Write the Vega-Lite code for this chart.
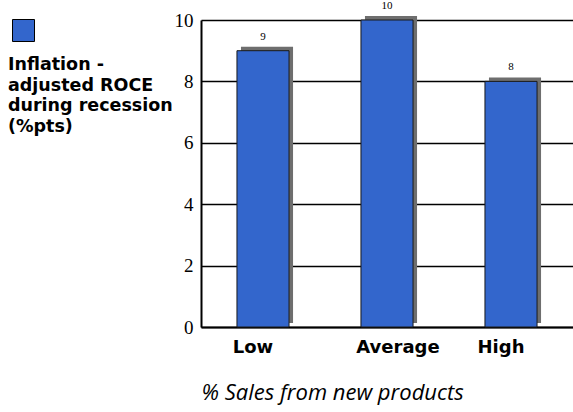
{
  "$schema": "https://vega.github.io/schema/vega-lite/v6.json",
  "autosize": "none",
  "width": 372,
  "height": 307,
  "padding": {"left": 201, "top": 20, "right": 0, "bottom": 85},
  "background": "white",
  "config": {
    "view": {"stroke": null},
    "axisY": {"labelFont": "Liberation Serif, Times New Roman, serif", "labelFontSize": 19}
  },
  "data": {
    "values": [
      {"cat": "Low", "value": 9, "series": "Inflation - adjusted ROCE during recession (%pts)"},
      {"cat": "Average", "value": 10, "series": "Inflation - adjusted ROCE during recession (%pts)"},
      {"cat": "High", "value": 8, "series": "Inflation - adjusted ROCE during recession (%pts)"}
    ]
  },
  "encoding": {
    "x": {
      "field": "cat",
      "type": "nominal",
      "sort": ["Low", "Average", "High"],
      "scale": {"paddingInner": 0.58, "paddingOuter": 0.29},
      "axis": {
        "title": "% Sales from new products",
        "titleFont": "Open Sans",
        "titleFontStyle": "italic",
        "titleFontWeight": "normal",
        "titleFontSize": 22,
        "titleColor": "black",
        "titleAnchor": "start",
        "titlePadding": 26,
        "labelFont": "DejaVu Sans",
        "labelFontWeight": "bold",
        "labelFontSize": 18,
        "labelColor": "black",
        "labelAngle": 0,
        "labelPadding": 11,
        "labelOffset": {"condition": {"test": "datum.value === 'Average'", "value": 11}, "value": -10},
        "ticks": false,
        "domainColor": "black",
        "domainWidth": 2
      }
    },
    "y": {
      "field": "value",
      "type": "quantitative",
      "scale": {"domain": [0, 10], "nice": false},
      "axis": {
        "title": null,
        "values": [0, 2, 4, 6, 8, 10],
        "grid": true,
        "gridColor": "black",
        "gridWidth": 1.5,
        "gridOpacity": 1,
        "domainColor": "black",
        "domainWidth": 2,
        "ticks": false,
        "labelFont": "Liberation Serif, Times New Roman, serif",
        "labelFontSize": 19,
        "labelFontWeight": "normal",
        "labelColor": "black",
        "labelPadding": 8
      }
    }
  },
  "layer": [
    {
      "mark": {"type": "bar", "color": "#6e6e6e", "xOffset": 4, "yOffset": -4, "y2Offset": -4},
      "encoding": {}
    },
    {
      "mark": {"type": "bar", "stroke": "#1a1a1a", "strokeWidth": 1},
      "encoding": {
        "color": {
          "field": "series",
          "type": "nominal",
          "scale": {"range": ["#3366cc"]},
          "legend": {
            "orient": "none",
            "legendX": -193,
            "legendY": -1,
            "title": ["Inflation -", "adjusted ROCE", "during recession", "(%pts)"],
            "titleOrient": "bottom",
            "titleFont": "DejaVu Sans",
            "titleFontWeight": "bold",
            "titleFontSize": 17.5,
            "titleColor": "black",
            "titleLineHeight": 20.7,
            "titlePadding": 12,
            "titleLimit": 300,
            "symbolType": "square",
            "symbolSize": 484,
            "symbolStrokeColor": "black",
            "symbolStrokeWidth": 1,
            "symbolOpacity": 1,
            "symbolOffset": 4,
            "labelExpr": "''",
            "labelFontSize": 1
          }
        }
      }
    },
    {
      "mark": {"type": "text", "dy": -11, "baseline": "alphabetic", "font": "Liberation Serif", "fontSize": 11, "color": "black"},
      "encoding": {"text": {"field": "value", "type": "quantitative"}}
    }
  ]
}
